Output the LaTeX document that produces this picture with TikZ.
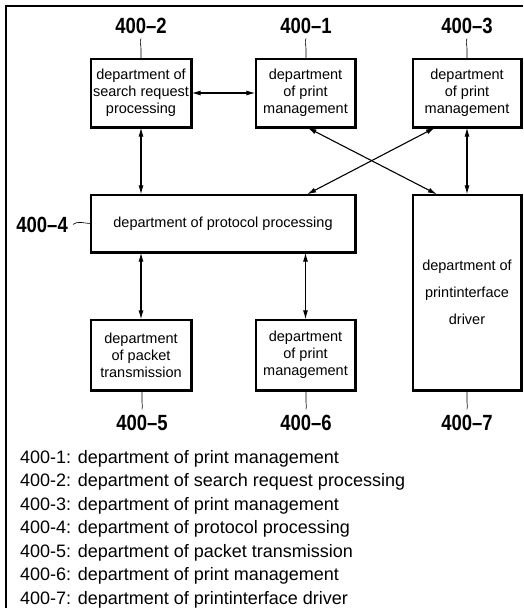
\documentclass[tikz,border=0pt]{standalone}
\usepackage{fontspec}
\setmainfont{Liberation Sans}
\newfontfamily\labfont[FakeStretch=0.84]{Liberation Sans Bold}
\usetikzlibrary{arrows.meta}
\begin{document}
\begin{tikzpicture}[x=1pt,y=-1pt,
  box/.style={draw, line width=1.3pt, inner sep=0pt, align=center, font=\fontsize{14.5}{17}\selectfont},
  num/.style={font=\labfont\fontsize{22}{22}\selectfont, inner sep=0pt},
  leg/.style={font=\fontsize{18}{18}\selectfont, anchor=base west, inner sep=0pt},
  biarrow/.style={{Latex[length=9pt,width=5pt]}-{Latex[length=9pt,width=5pt]}, line width=1.1pt},
  leader/.style={line width=0.6pt}]
\useasboundingbox (0,0) rectangle (523,608);
\draw[line width=1.5pt] (6,608) -- (6,6) -- (523,6);

% boxes
\node[box, minimum width=100pt, minimum height=68pt] (n2) at (141,93) {department of\\search request\\processing};
\node[box, minimum width=99pt, minimum height=68pt] (n1) at (305.5,93) {department\\of print\\management};
\node[box, minimum width=108pt, minimum height=68pt] (n3) at (467,93) {department\\of print\\management};
\node[box, minimum width=264pt, minimum height=57pt, font=\fontsize{14.5}{17}\selectfont] (n4) at (223,223.5) {department of protocol processing};
\node[box, minimum width=108pt, minimum height=195pt, font=\fontsize{14.5}{27}\selectfont] (n7) at (467,292.5) {department of\\printinterface\\driver};
\node[box, minimum width=100pt, minimum height=70pt] (n5) at (141,355) {department\\of packet\\transmission};
\node[box, minimum width=99pt, minimum height=70pt] (n6) at (305.5,355) {department\\of print\\management};
\foreach \n in {n1,n2,n3,n4,n5,n6,n7}
  \draw[line width=2.2pt] (\n.south west) -- (\n.south east) -- (\n.north east);

% reference numerals
\node[num, anchor=base] (l2) at (141,33) {400–2};
\node[num, anchor=base] (l1) at (306,33) {400–1};
\node[num, anchor=base] (l3) at (467,33) {400–3};
\node[num, anchor=base east] (l4) at (68,232) {400–4};
\node[num, anchor=base] (l5) at (142,430) {400–5};
\node[num, anchor=base] (l6) at (306,430) {400–6};
\node[num, anchor=base] (l7) at (467,430) {400–7};

% leaders
\foreach \l/\b in {l2/n2,l1/n1,l3/n3}
  \draw[leader] ([yshift=-5pt]\l.south) to[out=-115,in=90] ([yshift=-15pt]\l.south) -- (\b.north -| \l.south);
\foreach \l/\b in {l5/n5,l6/n6,l7/n7}
  \draw[leader] (\b.south -| \l.north) -- ([yshift=12pt]\l.north) to[out=-90,in=70] ([yshift=5pt]\l.north);
\draw[leader] ([xshift=5pt]l4.east) .. controls +(4,-4) and +(-5,0) .. (n4.west);

% connectors
\draw[biarrow] (n2.east) -- (n1.west);
\draw[biarrow] (n2.south) -- (n4.north -| n2.south);
\draw[biarrow] ([xshift=2pt]n1.south) -- ([xshift=-30pt]n7.north);
\draw[biarrow] ([xshift=-32pt]n3.south) -- ([xshift=84pt]n4.north);
\draw[biarrow] (n3.south) -- (n7.north);
\draw[biarrow] (n4.south -| n5.north) -- (n5.north);
\draw[biarrow] (n4.south -| n6.north) -- (n6.north);

% legend
\node[leg] (g1) at (20,463) {400-1: department of print management};
\node[leg] (g2) at (20,486.5) {400-2: department of search request processing};
\node[leg] (g3) at (20,510) {400-3: department of print management};
\node[leg] (g4) at (20,533.5) {400-4: department of protocol processing};
\node[leg] (g5) at (20,557) {400-5: department of packet transmission};
\node[leg] (g6) at (20,580.5) {400-6: department of print management};
\node[leg] (g7) at (20,604) {400-7: department of printinterface driver};
\end{tikzpicture}
\end{document}
